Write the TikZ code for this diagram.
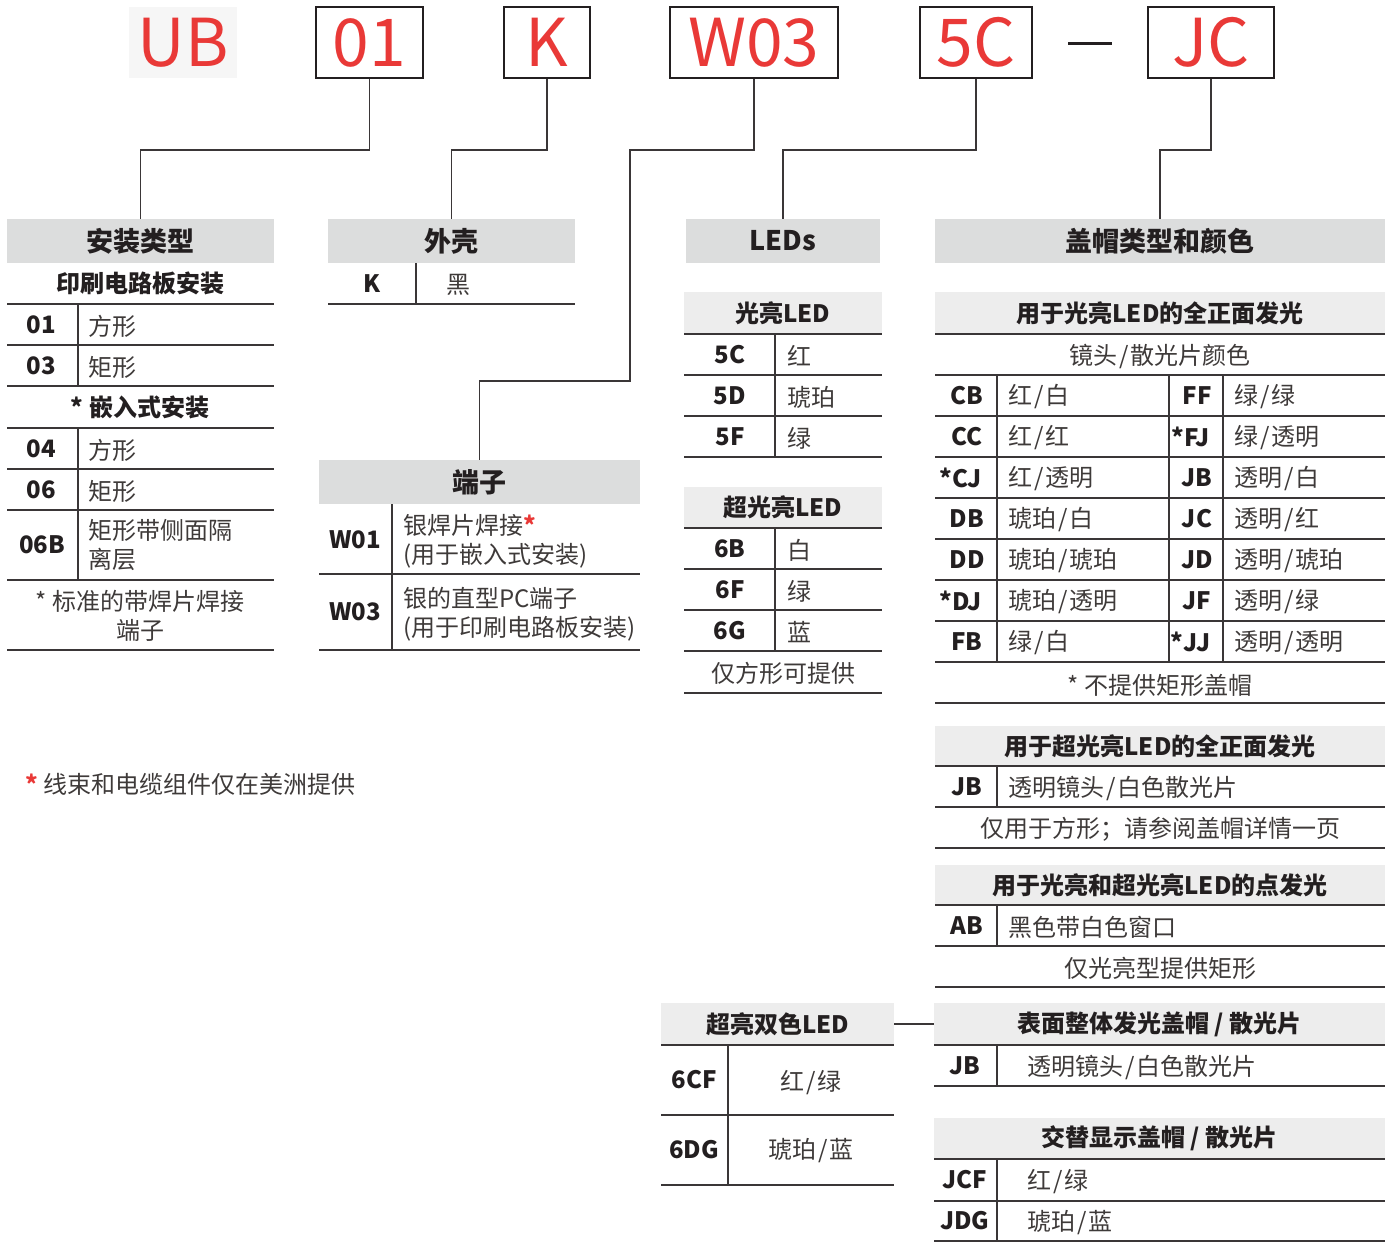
\documentclass[tikz,border=0pt]{standalone}
\usepackage{fontspec}
\setmainfont{Noto Sans CJK SC}
\definecolor{ink}{HTML}{231F20}
\definecolor{txtc}{HTML}{3E3A39}
\definecolor{linec}{HTML}{3A3637}
\definecolor{codered}{RGB}{233,57,55}
\definecolor{hdrgray}{HTML}{DCDDDD}
\definecolor{subgray}{HTML}{EDEDED}
\definecolor{ubbg}{HTML}{F6F6F6}
\newcommand\sls{\kern2pt/\kern2pt}
\begin{document}
\begin{tikzpicture}[x=1pt,y=-1pt,
 rule/.style={draw=linec, line width=1.5pt},
 conn/.style={draw=linec, line width=1.5pt},
 topbox/.style={draw=ink, line width=2.8pt, fill=white, minimum height=71pt, inner sep=0pt, text=codered, font=\fontsize{66}{66}\selectfont},
 hdr/.style={fill=hdrgray, minimum height=44pt, inner sep=0pt, text=ink, font=\bfseries\fontsize{27}{30}\selectfont},
 subh/.style={fill=subgray, minimum height=42pt, inner sep=0pt, text=ink, font=\bfseries\fontsize{24}{28}\selectfont},
 code/.style={text=ink, inner sep=0pt, font=\bfseries\fontsize{24}{28}\selectfont},
 txt/.style={text=txtc, inner sep=0pt, anchor=west, align=left, yshift=-1pt, font=\fontsize{24}{29}\selectfont},
 ctxt/.style={text=txtc, inner sep=0pt, align=center, yshift=-1pt, font=\fontsize{24}{29}\selectfont},
 btxt/.style={text=ink, inner sep=0pt, align=center, font=\bfseries\fontsize{24}{29}\selectfont},
]
\useasboundingbox (0,0) rectangle (1391,1242);

% ---------- top code boxes ----------
\node[fill=ubbg, minimum width=108pt, minimum height=71pt, inner sep=0pt, text=codered, font=\fontsize{66}{66}\selectfont] (bUB) at (183,42.5) {UB};
\node[topbox, minimum width=107pt] (b01) at (369.5,42.5) {01};
\node[topbox, minimum width=86pt] (bK) at (547,42.5) {K};
\node[topbox, minimum width=168pt] (bW) at (754,42.5) {W03};
\node[topbox, minimum width=112pt] (b5C) at (976,42.5) {5C};
\node[fill=ink, minimum width=44pt, minimum height=3pt, inner sep=0pt] (dash) at (1090,43) {};
\node[topbox, minimum width=126pt] (bJC) at (1211,42.5) {JC};

% ---------- headers ----------
\node[hdr, minimum width=267pt] (h1) at (140.5,241) {安装类型};
\node[hdr, minimum width=247pt] (hK) at (451.5,241) {外壳};
\node[hdr, minimum width=194pt] (hL) at (783,241) {LEDs};
\node[hdr, minimum width=450pt] (hC) at (1160,241) {盖帽类型和颜色};
\node[hdr, minimum width=321pt] (hT) at (479.5,482) {端子};

% ---------- connectors ----------
\coordinate (k1) at (0,150);
\coordinate (wa) at (630,150);
\coordinate (wb) at (630,381);
\draw[conn] (b01.south) |- (h1.north |- k1) -- (h1.north);
\draw[conn] (bK.south) |- (hK.north |- k1) -- (hK.north);
\draw[conn] (bW.south) |- (wa) -- (wb) -| (hT.north);
\draw[conn] (b5C.south) |- (hL.north |- k1) -- (hL.north);
\draw[conn] (bJC.south) |- (hC.north |- k1) -- (hC.north);

% ---------- mounting type table ----------
\node[btxt] (m1) at (140,283) {印刷电路板安装};
\foreach \y in {304,345,386,428,469,510,580,650} \draw[rule] (7,\y) -- (274,\y);
\draw[rule] (78,304) -- (78,386);
\draw[rule] (78,428) -- (78,580);
\node[code] (c01) at (41,325) {01};
\node[code] (c03) at (41,366) {03};
\node[code] (c04) at (41,449) {04};
\node[code] (c06) at (41,490) {06};
\node[code] (c06b) at (42,545) {06B};
\node[txt] (t01) at (88,325) {方形};
\node[txt] (t03) at (88,366) {矩形};
\node[btxt] (m2) at (140,407) {* 嵌入式安装};
\node[txt] (t04) at (88,449) {方形};
\node[txt] (t06) at (88,490) {矩形};
\node[txt] (t06b) at (88,544) {矩形带侧面隔\\离层};
\node[ctxt] (m3) at (140,615) {* 标准的带焊片焊接\\端子};

% ---------- housing ----------
\draw[rule] (328,304) -- (575,304);
\draw[rule] (416,263) -- (416,304);
\node[code] (cK) at (372,284) {K};
\node[txt] (tK) at (446,284) {黑};

% ---------- terminals ----------
\foreach \y in {574,650} \draw[rule] (319,\y) -- (640,\y);
\draw[rule] (392,504) -- (392,650);
\node[code] (cW1) at (355,540) {W01};
\node[code] (cW3) at (355,612) {W03};
\node[txt] (tW1) at (403,540) {银焊片焊接\textcolor{codered}{\textbf{*}}\\(用于嵌入式安装)};
\node[txt] (tW3) at (403,613) {银的直型PC端子\\(用于印刷电路板安装)};

% ---------- LEDs ----------
\node[subh, minimum width=198pt] (s1) at (783,313) {光亮LED};
\foreach \y in {334,375,416,457} \draw[rule] (684,\y) -- (882,\y);
\draw[rule] (775,334) -- (775,457);
\node[code] (c5C) at (730,355) {5C};
\node[code] (c5D) at (730,396) {5D};
\node[code] (c5F) at (730,437) {5F};
\node[txt] (t5C) at (787,355) {红};
\node[txt] (t5D) at (787,396) {琥珀};
\node[txt] (t5F) at (787,437) {绿};
\node[subh, minimum width=198pt, minimum height=41pt] (s2) at (783,507.5) {超光亮LED};
\foreach \y in {528,569,610,651,693} \draw[rule] (684,\y) -- (882,\y);
\draw[rule] (775,528) -- (775,651);
\node[code] (c6B) at (730,549) {6B};
\node[code] (c6F) at (730,590) {6F};
\node[code] (c6G) at (730,631) {6G};
\node[txt] (t6B) at (787,549) {白};
\node[txt] (t6F) at (787,590) {绿};
\node[txt] (t6G) at (787,631) {蓝};
\node[ctxt] (f6) at (783,672) {仅方形可提供};

% ---------- caps ----------
\node[subh, minimum width=450pt] (s3) at (1160,313) {用于光亮LED的全正面发光};
\node[ctxt] (lens) at (1160,355) {镜头\sls 散光片颜色};
\foreach \y in {334,375,416,457,498,539,580,621,662,703} \draw[rule] (935,\y) -- (1385,\y);
\foreach \x in {997,1169,1223} \draw[rule] (\x,375) -- (\x,662);
\foreach \y/\a/\b/\c/\d [count=\i] in {
  396/CB/红\sls 白/FF/绿\sls 绿,
  437/CC/红\sls 红/\llap{*}FJ/绿\sls 透明,
  478/\llap{*}CJ/红\sls 透明/JB/透明\sls 白,
  519/DB/琥珀\sls 白/JC/透明\sls 红,
  560/DD/琥珀\sls 琥珀/JD/透明\sls 琥珀,
  601/\llap{*}DJ/琥珀\sls 透明/JF/透明\sls 绿,
  642/FB/绿\sls 白/\llap{*}JJ/透明\sls 透明} {
  \node[code] (cl\i) at (967,\y) {\a};
  \node[txt] (tl\i) at (1008,\y) {\b};
  \node[code] (cr\i) at (1197,\y) {\c};
  \node[txt] (tr\i) at (1234,\y) {\d};
}
\node[ctxt] (fc) at (1160,684) {* 不提供矩形盖帽};

\node[subh, minimum width=450pt, minimum height=40pt] (s4) at (1160,746) {用于超光亮LED的全正面发光};
\foreach \y in {766,807,848} \draw[rule] (935,\y) -- (1385,\y);
\draw[rule] (997,766) -- (997,807);
\node[code] (cJB1) at (967,787) {JB};
\node[txt] (tJB1) at (1008,787) {透明镜头\sls 白色散光片};
\node[ctxt] (fs) at (1160,828) {仅用于方形；请参阅盖帽详情一页};

\node[subh, minimum width=450pt, minimum height=40pt] (s5) at (1160,885) {用于光亮和超光亮LED的点发光};
\foreach \y in {905,946,987} \draw[rule] (935,\y) -- (1385,\y);
\draw[rule] (997,905) -- (997,946);
\node[code] (cAB) at (967,926) {AB};
\node[txt] (tAB) at (1008,926) {黑色带白色窗口};
\node[ctxt] (fa) at (1160,967) {仅光亮型提供矩形};

% ---------- bicolour ----------
\node[subh, minimum width=233pt] (s6) at (777.5,1024) {超亮双色LED};
\foreach \y in {1045,1115,1185} \draw[rule] (661,\y) -- (894,\y);
\draw[rule] (728,1045) -- (728,1185);
\node[code] (c6CF) at (694,1080) {6CF};
\node[code] (c6DG) at (694,1150) {6DG};
\node[ctxt] (t6CF) at (811,1082) {红\sls 绿};
\node[ctxt] (t6DG) at (811,1150) {琥珀\sls 蓝};

\node[subh, minimum width=451pt] (s7) at (1159.5,1024) {表面整体发光盖帽 / 散光片};
\draw[conn] (s6.east) -- (s7.west);
\foreach \y in {1045,1086} \draw[rule] (934,\y) -- (1385,\y);
\draw[rule] (997,1045) -- (997,1086);
\node[code] (cJB2) at (965,1066) {JB};
\node[txt] (tJB2) at (1027,1066) {透明镜头\sls 白色散光片};

\node[subh, minimum width=451pt, minimum height=41pt] (s8) at (1159.5,1138.5) {交替显示盖帽 / 散光片};
\foreach \y in {1159,1201,1241} \draw[rule] (934,\y) -- (1385,\y);
\draw[rule] (997,1159) -- (997,1241);
\node[code] (cJCF) at (965,1180) {JCF};
\node[code] (cJDG) at (965,1221) {JDG};
\node[txt] (tJCF) at (1027,1181) {红\sls 绿};
\node[txt] (tJDG) at (1027,1222) {琥珀\sls 蓝};

% ---------- footnote ----------
\node[txt, font=\fontsize{24}{29}\selectfont] (fn) at (25,783) {\textcolor{codered}{\textbf{*}}\kern6pt 线束和电缆组件仅在美洲提供};
\end{tikzpicture}
\end{document}
